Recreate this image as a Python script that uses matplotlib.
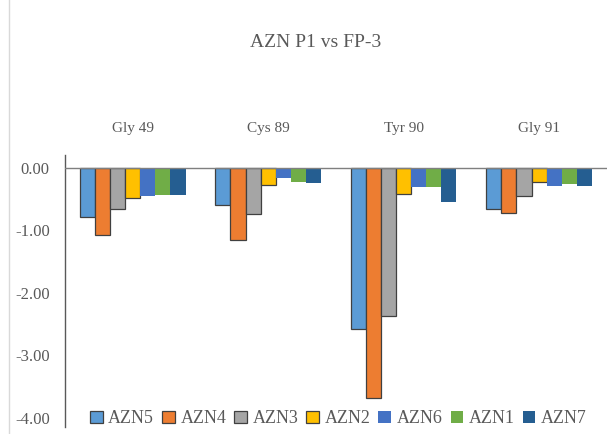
import matplotlib.pyplot as plt
import numpy as np
from matplotlib.lines import Line2D

plt.rcParams['font.family'] = ['Liberation Serif', 'DejaVu Serif']

residues = ["Gly 49", "Cys 89", "Tyr 90", "Gly 91"]
series_names = ["AZN5", "AZN4", "AZN3", "AZN2", "AZN6", "AZN1", "AZN7"]
azn5 = [-0.79, -0.59, -2.58, -0.66]
azn4 = [-1.07, -1.15, -3.68, -0.72]
azn3 = [-0.66, -0.74, -2.37, -0.45]
azn2 = [-0.48, -0.27, -0.42, -0.22]
azn6 = [-0.45, -0.16, -0.31, -0.29]
azn1 = [-0.43, -0.22, -0.31, -0.26]
azn7 = [-0.43, -0.24, -0.55, -0.29]

colors = ["#5B9BD5", "#ED7D31", "#A5A5A5", "#FFC000", "#4472C4", "#70AD47", "#255E91"]
text_grey = "#595959"

fig = plt.figure(figsize=(6.13, 4.34), dpi=100)
ax = fig.add_axes([0.106, 0.016, 0.884, 0.626])

x = np.arange(len(residues))
all_series = [azn5, azn4, azn3, azn2, azn6, azn1, azn7]
width = 0.78 / len(all_series)
for i, (name, vals) in enumerate(zip(series_names, all_series)):
    offs = (i - (len(all_series) - 1) / 2) * width
    if i < 4:
        ax.bar(x + offs, vals, width, color=colors[i], edgecolor="#404040",
               linewidth=0.9, label=name, zorder=2)
    else:
        ax.bar(x + offs, vals, width, color=colors[i], edgecolor="none",
               label=name, zorder=2)

ax.set_xlim(-0.5, len(residues) - 0.5)
ax.set_ylim(-4.15, 0.2)
ax.axhline(0, color="#7f7f7f", linewidth=1.0, zorder=3)

ax.set_yticks([0, -1, -2, -3, -4])
ax.set_yticklabels(["0.00", "-1.00", "-2.00", "-3.00", "-4.00"])
ax.tick_params(axis="y", length=0, pad=11, labelsize=12, labelcolor=text_grey)

ax.xaxis.tick_top()
ax.set_xticks(x)
ax.set_xticklabels(residues)
ax.tick_params(axis="x", length=0, pad=15, labelsize=11, labelcolor=text_grey)

for s in ["top", "right", "bottom"]:
    ax.spines[s].set_visible(False)
ax.spines["left"].set_color("#595959")
ax.spines["left"].set_linewidth(1.0)

fig.text(0.515, 0.903, "AZN P1 vs FP-3", ha="center", va="center",
         fontsize=14, color=text_grey)

fig.legend(loc="center", bbox_to_anchor=(0.552, 0.035), ncol=7, frameon=False,
           fontsize=13, handlelength=0.7, handleheight=0.7, handletextpad=0.3,
           columnspacing=0.45, labelcolor=text_grey)

fig.add_artist(Line2D([9 / 613, 9 / 613], [0, 1], color="#d9d9d9", linewidth=1.0))

fig.savefig("out.png", dpi=100)
